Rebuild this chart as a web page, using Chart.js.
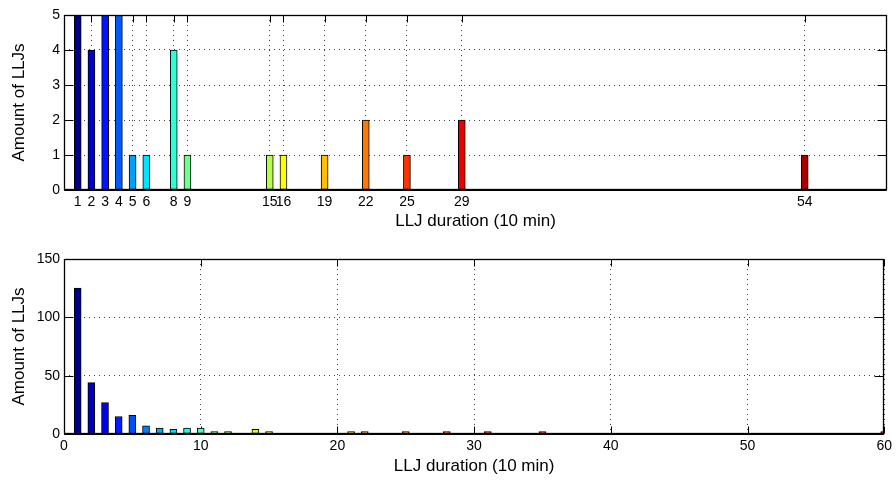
<!DOCTYPE html>
<html>
<head>
<meta charset="utf-8">
<script src="https://cdn.jsdelivr.net/npm/chart.js@4"></script>
<style>
  html, body { margin: 0; padding: 0; background: #fff; }
  #wrap { position: relative; width: 896px; height: 480px; }
  canvas { position: absolute; left: 0; }
  #c1 { top: 0; }
  #c2 { top: 240px; }
</style>
</head>
<body>
<div id="wrap">
  <canvas id="c1" width="896" height="240"></canvas>
  <canvas id="c2" width="896" height="240"></canvas>
</div>
<script>
// ---- data ----
const topDurations = [1, 2, 3, 4, 5, 6, 8, 9, 15, 16, 19, 22, 25, 29, 54];
const topCounts    = [5, 4, 5, 5, 1, 1, 4, 1, 1, 1, 1, 2, 1, 2, 1];
const topXTicks    = [1, 2, 3, 4, 5, 6, 8, 9, 15, 16, 19, 22, 25, 29, 54];
const topYTicks    = [0, 1, 2, 3, 4, 5];

const bottomDurations = [1, 2, 3, 4, 5, 6, 7, 8, 9, 10, 11, 12, 14, 15, 21, 22, 25, 28, 31, 35, 60];
const bottomCounts    = [125, 44, 27, 15, 16, 7, 5, 4, 5, 5, 1, 1, 4, 1, 1, 1, 1, 2, 1, 2, 1];
const bottomXTicks    = [0, 10, 20, 30, 40, 50, 60];
const bottomYTicks    = [0, 50, 100, 150];

const xTitle = 'LLJ duration (10 min)';
const yTitle = 'Amount of LLJs';

// ---- styling helpers ----
function clamp01(v) { return Math.max(0, Math.min(1, v)); }
function jet(t) {
  const r = clamp01(1.5 - Math.abs(4 * t - 3));
  const g = clamp01(1.5 - Math.abs(4 * t - 2));
  const b = clamp01(1.5 - Math.abs(4 * t - 1));
  return 'rgb(' + Math.round(r * 255) + ',' + Math.round(g * 255) + ',' + Math.round(b * 255) + ')';
}
function jetColors(n) {
  const out = [];
  for (let i = 0; i < n; i++) out.push(jet(i / (n - 1) * 0.95 + 0.01));
  return out;
}

Chart.defaults.font.family = "'Liberation Sans', Arial, Helvetica, sans-serif";
Chart.defaults.color = '#000';

const boxPlugin = {
  id: 'boxTicks',
  beforeDatasetsDraw(chart) {
    const { ctx, chartArea: a, scales: { x, y } } = chart;
    ctx.save();
    ctx.strokeStyle = '#000';
    ctx.lineWidth = 1;
    const L = Math.round(a.left) + 0.5, R = Math.round(a.right) - 0.5;
    const T = Math.round(a.top) + 0.5, B = Math.round(a.bottom) - 0.5;
    ctx.beginPath();
    x.ticks.forEach(t => {
      const px = Math.round(x.getPixelForValue(t.value)) + 0.5;
      ctx.moveTo(px, B); ctx.lineTo(px, B - 7);
      ctx.moveTo(px, T); ctx.lineTo(px, T + 7);
    });
    y.ticks.forEach(t => {
      const py = Math.round(y.getPixelForValue(t.value)) + 0.5;
      ctx.moveTo(L, py); ctx.lineTo(L + 9, py);
      ctx.moveTo(R, py); ctx.lineTo(R - 9, py);
    });
    ctx.stroke();
    ctx.restore();
  },
  afterDatasetsDraw(chart) {
    const { ctx, chartArea: a } = chart;
    ctx.save();
    ctx.strokeStyle = '#000';
    const L = Math.round(a.left) + 0.5, R = Math.round(a.right) - 0.5;
    const T = Math.round(a.top) + 0.5, B = Math.round(a.bottom) - 0.5;
    ctx.lineWidth = 1.3;
    ctx.strokeRect(L, T, R - L, B - T);
    ctx.lineWidth = 2;
    ctx.beginPath();
    ctx.moveTo(L, B + 0.5); ctx.lineTo(R, B + 0.5);
    ctx.stroke();
    ctx.restore();
  }
};

function makeChart(id, xs, ys, xTicks, yTicks, yMax, opts) {
  const colors = jetColors(xs.length);
  const points = xs.map((v, i) => ({ x: v, y: ys[i] }));
  return new Chart(document.getElementById(id), {
    type: 'bar',
    data: {
      datasets: [{
        data: points,
        backgroundColor: colors,
        borderColor: '#000',
        borderWidth: 1,
        borderSkipped: false,
        barThickness: 7,
        minBarLength: 2.5,
        clip: 0
      }]
    },
    options: {
      responsive: false,
      animation: false,
      events: [],
      layout: { padding: { left: 0, right: 9, top: opts.padTop, bottom: 0 } },
      plugins: { legend: { display: false }, tooltip: { enabled: false } },
      scales: {
        x: {
          type: 'linear',
          min: 0, max: 60,
          offset: false,
          afterBuildTicks: s => { s.ticks = xTicks.map(v => ({ value: v })); },
          afterFit: s => { s.height = opts.xHeight; },
          grid: { offset: false, drawTicks: false, color: '#444', lineWidth: 1 },
          border: { display: false, dash: [1, 4] },
          ticks: {
            autoSkip: false, maxRotation: 0, minRotation: 0,
            padding: opts.xTickPad,
            font: { size: 14 }, color: '#000',
            callback: v => String(v)
          },
          title: {
            display: true, text: xTitle, color: '#000',
            font: { size: 17 },
            padding: { top: 0, bottom: opts.xTitlePad }
          }
        },
        y: {
          type: 'linear',
          min: 0, max: yMax,
          afterBuildTicks: s => { s.ticks = yTicks.map(v => ({ value: v })); },
          afterFit: s => { s.width = 64; },
          grid: { drawTicks: false, color: '#444', lineWidth: 1 },
          border: { display: false, dash: [1, 4] },
          ticks: {
            padding: 4,
            font: { size: 14 }, color: '#000',
            callback: v => String(v)
          },
          title: {
            display: true, text: yTitle, color: '#000',
            font: { size: 17 },
            padding: { top: 9, bottom: 0 }
          }
        }
      }
    },
    plugins: [boxPlugin]
  });
}

makeChart('c1', topDurations, topCounts, topXTicks, topYTicks, 5,
  { padTop: 15, xHeight: 50, xTickPad: 4, xTitlePad: 8 });
makeChart('c2', bottomDurations, bottomCounts, bottomXTicks, bottomYTicks, 150,
  { padTop: 19, xHeight: 46, xTickPad: 4, xTitlePad: 3 });
</script>
</body>
</html>
